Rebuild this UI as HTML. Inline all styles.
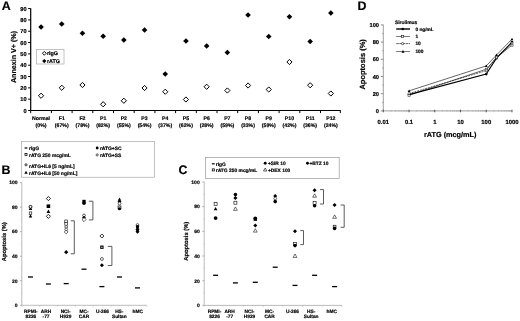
<!DOCTYPE html>
<html><head><meta charset="utf-8"><style>
html,body{margin:0;padding:0;background:#fff;}
body{width:520px;height:321px;overflow:hidden;}
svg{display:block;will-change:transform;text-rendering:geometricPrecision;}
text{stroke:#000;stroke-width:0.18px;}
</style></head><body>
<svg width="520" height="321" viewBox="0 0 520 321" font-family="Liberation Sans, sans-serif" font-weight="bold">
<rect width="520" height="321" fill="#fff"/>
<text x="1.70" y="9.90" font-size="12.4" text-anchor="start" fill="#000" >A</text>
<text x="1.60" y="173.50" font-size="12.4" text-anchor="start" fill="#000" >B</text>
<text x="178.40" y="174.00" font-size="12.4" text-anchor="start" fill="#000" >C</text>
<text x="357.40" y="10.30" font-size="12.4" text-anchor="start" fill="#000" >D</text>
<line x1="30.70" y1="8.30" x2="30.70" y2="111.00" stroke="#000" stroke-width="1.2" />
<line x1="30.20" y1="110.50" x2="340.70" y2="110.50" stroke="#000" stroke-width="1.2" />
<line x1="28.10" y1="110.50" x2="30.70" y2="110.50" stroke="#000" stroke-width="1.0" />
<text x="26.60" y="112.50" font-size="5.6" text-anchor="end" fill="#000" >0</text>
<line x1="28.10" y1="99.18" x2="30.70" y2="99.18" stroke="#000" stroke-width="1.0" />
<text x="26.60" y="101.18" font-size="5.6" text-anchor="end" fill="#000" >10</text>
<line x1="28.10" y1="87.86" x2="30.70" y2="87.86" stroke="#000" stroke-width="1.0" />
<text x="26.60" y="89.86" font-size="5.6" text-anchor="end" fill="#000" >20</text>
<line x1="28.10" y1="76.53" x2="30.70" y2="76.53" stroke="#000" stroke-width="1.0" />
<text x="26.60" y="78.53" font-size="5.6" text-anchor="end" fill="#000" >30</text>
<line x1="28.10" y1="65.21" x2="30.70" y2="65.21" stroke="#000" stroke-width="1.0" />
<text x="26.60" y="67.21" font-size="5.6" text-anchor="end" fill="#000" >40</text>
<line x1="28.10" y1="53.89" x2="30.70" y2="53.89" stroke="#000" stroke-width="1.0" />
<text x="26.60" y="55.89" font-size="5.6" text-anchor="end" fill="#000" >50</text>
<line x1="28.10" y1="42.57" x2="30.70" y2="42.57" stroke="#000" stroke-width="1.0" />
<text x="26.60" y="44.57" font-size="5.6" text-anchor="end" fill="#000" >60</text>
<line x1="28.10" y1="31.24" x2="30.70" y2="31.24" stroke="#000" stroke-width="1.0" />
<text x="26.60" y="33.24" font-size="5.6" text-anchor="end" fill="#000" >70</text>
<line x1="28.10" y1="19.92" x2="30.70" y2="19.92" stroke="#000" stroke-width="1.0" />
<text x="26.60" y="21.92" font-size="5.6" text-anchor="end" fill="#000" >80</text>
<line x1="28.10" y1="8.60" x2="30.70" y2="8.60" stroke="#000" stroke-width="1.0" />
<text x="26.60" y="10.60" font-size="5.6" text-anchor="end" fill="#000" >90</text>
<line x1="30.70" y1="110.50" x2="30.70" y2="113.10" stroke="#000" stroke-width="1.0" />
<line x1="51.40" y1="110.50" x2="51.40" y2="113.10" stroke="#000" stroke-width="1.0" />
<line x1="72.10" y1="110.50" x2="72.10" y2="113.10" stroke="#000" stroke-width="1.0" />
<line x1="92.80" y1="110.50" x2="92.80" y2="113.10" stroke="#000" stroke-width="1.0" />
<line x1="113.50" y1="110.50" x2="113.50" y2="113.10" stroke="#000" stroke-width="1.0" />
<line x1="134.20" y1="110.50" x2="134.20" y2="113.10" stroke="#000" stroke-width="1.0" />
<line x1="154.90" y1="110.50" x2="154.90" y2="113.10" stroke="#000" stroke-width="1.0" />
<line x1="175.60" y1="110.50" x2="175.60" y2="113.10" stroke="#000" stroke-width="1.0" />
<line x1="196.30" y1="110.50" x2="196.30" y2="113.10" stroke="#000" stroke-width="1.0" />
<line x1="217.00" y1="110.50" x2="217.00" y2="113.10" stroke="#000" stroke-width="1.0" />
<line x1="237.70" y1="110.50" x2="237.70" y2="113.10" stroke="#000" stroke-width="1.0" />
<line x1="258.40" y1="110.50" x2="258.40" y2="113.10" stroke="#000" stroke-width="1.0" />
<line x1="279.10" y1="110.50" x2="279.10" y2="113.10" stroke="#000" stroke-width="1.0" />
<line x1="299.80" y1="110.50" x2="299.80" y2="113.10" stroke="#000" stroke-width="1.0" />
<line x1="320.50" y1="110.50" x2="320.50" y2="113.10" stroke="#000" stroke-width="1.0" />
<line x1="340.30" y1="110.50" x2="340.30" y2="113.10" stroke="#000" stroke-width="1.0" />
<text x="41.05" y="120.20" font-size="5.2" text-anchor="middle" fill="#000" >Normal</text>
<text x="41.05" y="127.30" font-size="5.2" text-anchor="middle" fill="#000" >(0%)</text>
<text x="61.75" y="120.20" font-size="5.2" text-anchor="middle" fill="#000" >F1</text>
<text x="61.75" y="127.30" font-size="5.2" text-anchor="middle" fill="#000" >(67%)</text>
<text x="82.45" y="120.20" font-size="5.2" text-anchor="middle" fill="#000" >F2</text>
<text x="82.45" y="127.30" font-size="5.2" text-anchor="middle" fill="#000" >(78%)</text>
<text x="103.15" y="120.20" font-size="5.2" text-anchor="middle" fill="#000" >P1</text>
<text x="103.15" y="127.30" font-size="5.2" text-anchor="middle" fill="#000" >(82%)</text>
<text x="123.85" y="120.20" font-size="5.2" text-anchor="middle" fill="#000" >P2</text>
<text x="123.85" y="127.30" font-size="5.2" text-anchor="middle" fill="#000" >(55%)</text>
<text x="144.55" y="120.20" font-size="5.2" text-anchor="middle" fill="#000" >P3</text>
<text x="144.55" y="127.30" font-size="5.2" text-anchor="middle" fill="#000" >(54%)</text>
<text x="165.25" y="120.20" font-size="5.2" text-anchor="middle" fill="#000" >P4</text>
<text x="165.25" y="127.30" font-size="5.2" text-anchor="middle" fill="#000" >(37%)</text>
<text x="185.95" y="120.20" font-size="5.2" text-anchor="middle" fill="#000" >P5</text>
<text x="185.95" y="127.30" font-size="5.2" text-anchor="middle" fill="#000" >(62%)</text>
<text x="206.65" y="120.20" font-size="5.2" text-anchor="middle" fill="#000" >P6</text>
<text x="206.65" y="127.30" font-size="5.2" text-anchor="middle" fill="#000" >(28%)</text>
<text x="227.35" y="120.20" font-size="5.2" text-anchor="middle" fill="#000" >P7</text>
<text x="227.35" y="127.30" font-size="5.2" text-anchor="middle" fill="#000" >(59%)</text>
<text x="248.05" y="120.20" font-size="5.2" text-anchor="middle" fill="#000" >P8</text>
<text x="248.05" y="127.30" font-size="5.2" text-anchor="middle" fill="#000" >(33%)</text>
<text x="268.75" y="120.20" font-size="5.2" text-anchor="middle" fill="#000" >P9</text>
<text x="268.75" y="127.30" font-size="5.2" text-anchor="middle" fill="#000" >(59%)</text>
<text x="289.45" y="120.20" font-size="5.2" text-anchor="middle" fill="#000" >P10</text>
<text x="289.45" y="127.30" font-size="5.2" text-anchor="middle" fill="#000" >(42%)</text>
<text x="310.15" y="120.20" font-size="5.2" text-anchor="middle" fill="#000" >P11</text>
<text x="310.15" y="127.30" font-size="5.2" text-anchor="middle" fill="#000" >(36%)</text>
<text x="330.85" y="120.20" font-size="5.2" text-anchor="middle" fill="#000" >P12</text>
<text x="330.85" y="127.30" font-size="5.2" text-anchor="middle" fill="#000" >(24%)</text>
<polygon points="41.05,24.20 43.85,27.00 41.05,29.80 38.25,27.00" fill="#000"/>
<polygon points="41.05,93.15 43.65,95.75 41.05,98.35 38.45,95.75" fill="#fff" stroke="#000" stroke-width="1.0"/>
<polygon points="61.75,21.20 64.55,24.00 61.75,26.80 58.95,24.00" fill="#000"/>
<polygon points="61.75,85.15 64.35,87.75 61.75,90.35 59.15,87.75" fill="#fff" stroke="#000" stroke-width="1.0"/>
<polygon points="82.45,30.45 85.25,33.25 82.45,36.05 79.65,33.25" fill="#000"/>
<polygon points="82.45,82.40 85.05,85.00 82.45,87.60 79.85,85.00" fill="#fff" stroke="#000" stroke-width="1.0"/>
<polygon points="103.15,33.45 105.95,36.25 103.15,39.05 100.35,36.25" fill="#000"/>
<polygon points="103.15,101.65 105.75,104.25 103.15,106.85 100.55,104.25" fill="#fff" stroke="#000" stroke-width="1.0"/>
<polygon points="123.85,37.20 126.65,40.00 123.85,42.80 121.05,40.00" fill="#000"/>
<polygon points="123.85,98.15 126.45,100.75 123.85,103.35 121.25,100.75" fill="#fff" stroke="#000" stroke-width="1.0"/>
<polygon points="144.55,27.20 147.35,30.00 144.55,32.80 141.75,30.00" fill="#000"/>
<polygon points="144.55,85.40 147.15,88.00 144.55,90.60 141.95,88.00" fill="#fff" stroke="#000" stroke-width="1.0"/>
<polygon points="165.25,71.20 168.05,74.00 165.25,76.80 162.45,74.00" fill="#000"/>
<polygon points="165.25,89.15 167.85,91.75 165.25,94.35 162.65,91.75" fill="#fff" stroke="#000" stroke-width="1.0"/>
<polygon points="185.95,38.20 188.75,41.00 185.95,43.80 183.15,41.00" fill="#000"/>
<polygon points="185.95,96.90 188.55,99.50 185.95,102.10 183.35,99.50" fill="#fff" stroke="#000" stroke-width="1.0"/>
<polygon points="206.65,43.20 209.45,46.00 206.65,48.80 203.85,46.00" fill="#000"/>
<polygon points="206.65,84.15 209.25,86.75 206.65,89.35 204.05,86.75" fill="#fff" stroke="#000" stroke-width="1.0"/>
<polygon points="227.35,49.70 230.15,52.50 227.35,55.30 224.55,52.50" fill="#000"/>
<polygon points="227.35,87.90 229.95,90.50 227.35,93.10 224.75,90.50" fill="#fff" stroke="#000" stroke-width="1.0"/>
<polygon points="248.05,12.20 250.85,15.00 248.05,17.80 245.25,15.00" fill="#000"/>
<polygon points="248.05,82.90 250.65,85.50 248.05,88.10 245.45,85.50" fill="#fff" stroke="#000" stroke-width="1.0"/>
<polygon points="268.75,33.70 271.55,36.50 268.75,39.30 265.95,36.50" fill="#000"/>
<polygon points="268.75,86.90 271.35,89.50 268.75,92.10 266.15,89.50" fill="#fff" stroke="#000" stroke-width="1.0"/>
<polygon points="289.45,13.95 292.25,16.75 289.45,19.55 286.65,16.75" fill="#000"/>
<polygon points="289.45,59.40 292.05,62.00 289.45,64.60 286.85,62.00" fill="#fff" stroke="#000" stroke-width="1.0"/>
<polygon points="310.15,38.70 312.95,41.50 310.15,44.30 307.35,41.50" fill="#000"/>
<polygon points="310.15,82.65 312.75,85.25 310.15,87.85 307.55,85.25" fill="#fff" stroke="#000" stroke-width="1.0"/>
<polygon points="330.85,10.20 333.65,13.00 330.85,15.80 328.05,13.00" fill="#000"/>
<polygon points="330.85,90.90 333.45,93.50 330.85,96.10 328.25,93.50" fill="#fff" stroke="#000" stroke-width="1.0"/>
<text transform="translate(16.0,57) rotate(-90)" font-size="7.15" text-anchor="middle">Annexin V+ (%)</text>
<rect x="36.6" y="49.6" width="27.4" height="14.4" fill="#fff" stroke="#aaa" stroke-width="0.7"/>
<polygon points="44.30,51.40 46.20,53.30 44.30,55.20 42.40,53.30" fill="#fff" stroke="#000" stroke-width="0.95"/>
<text x="46.90" y="55.30" font-size="5.4" text-anchor="start" fill="#000" >rIgG</text>
<polygon points="44.30,59.00 46.40,61.10 44.30,63.20 42.20,61.10" fill="#000"/>
<text x="46.90" y="62.90" font-size="5.4" text-anchor="start" fill="#000" >rATG</text>
<line x1="383.30" y1="24.60" x2="383.30" y2="110.90" stroke="#888" stroke-width="0.8" />
<line x1="383.30" y1="110.90" x2="512.00" y2="110.90" stroke="#888" stroke-width="0.8" />
<line x1="380.80" y1="110.90" x2="383.30" y2="110.90" stroke="#777" stroke-width="0.8" />
<text x="379.00" y="112.90" font-size="5.7" text-anchor="end" fill="#000" >0</text>
<line x1="382.10" y1="102.30" x2="383.30" y2="102.30" stroke="#666" stroke-width="0.5" />
<line x1="380.80" y1="93.70" x2="383.30" y2="93.70" stroke="#777" stroke-width="0.8" />
<text x="379.00" y="95.70" font-size="5.7" text-anchor="end" fill="#000" >20</text>
<line x1="382.10" y1="85.10" x2="383.30" y2="85.10" stroke="#666" stroke-width="0.5" />
<line x1="380.80" y1="76.50" x2="383.30" y2="76.50" stroke="#777" stroke-width="0.8" />
<text x="379.00" y="78.50" font-size="5.7" text-anchor="end" fill="#000" >40</text>
<line x1="382.10" y1="67.90" x2="383.30" y2="67.90" stroke="#666" stroke-width="0.5" />
<line x1="380.80" y1="59.30" x2="383.30" y2="59.30" stroke="#777" stroke-width="0.8" />
<text x="379.00" y="61.30" font-size="5.7" text-anchor="end" fill="#000" >60</text>
<line x1="382.10" y1="50.70" x2="383.30" y2="50.70" stroke="#666" stroke-width="0.5" />
<line x1="380.80" y1="42.10" x2="383.30" y2="42.10" stroke="#777" stroke-width="0.8" />
<text x="379.00" y="44.10" font-size="5.7" text-anchor="end" fill="#000" >80</text>
<line x1="382.10" y1="33.50" x2="383.30" y2="33.50" stroke="#666" stroke-width="0.5" />
<line x1="380.80" y1="24.90" x2="383.30" y2="24.90" stroke="#777" stroke-width="0.8" />
<text x="379.00" y="26.90" font-size="5.7" text-anchor="end" fill="#000" >100</text>
<line x1="383.30" y1="109.70" x2="383.30" y2="112.30" stroke="#333" stroke-width="0.8" />
<line x1="391.05" y1="110.30" x2="391.05" y2="111.50" stroke="#777" stroke-width="0.4" />
<line x1="395.58" y1="110.30" x2="395.58" y2="111.50" stroke="#777" stroke-width="0.4" />
<line x1="398.80" y1="110.30" x2="398.80" y2="111.50" stroke="#777" stroke-width="0.4" />
<line x1="401.29" y1="110.30" x2="401.29" y2="111.50" stroke="#777" stroke-width="0.4" />
<line x1="403.33" y1="110.30" x2="403.33" y2="111.50" stroke="#777" stroke-width="0.4" />
<line x1="405.05" y1="110.30" x2="405.05" y2="111.50" stroke="#777" stroke-width="0.4" />
<line x1="406.55" y1="110.30" x2="406.55" y2="111.50" stroke="#777" stroke-width="0.4" />
<line x1="407.86" y1="110.30" x2="407.86" y2="111.50" stroke="#777" stroke-width="0.4" />
<line x1="409.04" y1="109.70" x2="409.04" y2="112.30" stroke="#333" stroke-width="0.8" />
<line x1="416.79" y1="110.30" x2="416.79" y2="111.50" stroke="#777" stroke-width="0.4" />
<line x1="421.32" y1="110.30" x2="421.32" y2="111.50" stroke="#777" stroke-width="0.4" />
<line x1="424.54" y1="110.30" x2="424.54" y2="111.50" stroke="#777" stroke-width="0.4" />
<line x1="427.03" y1="110.30" x2="427.03" y2="111.50" stroke="#777" stroke-width="0.4" />
<line x1="429.07" y1="110.30" x2="429.07" y2="111.50" stroke="#777" stroke-width="0.4" />
<line x1="430.79" y1="110.30" x2="430.79" y2="111.50" stroke="#777" stroke-width="0.4" />
<line x1="432.29" y1="110.30" x2="432.29" y2="111.50" stroke="#777" stroke-width="0.4" />
<line x1="433.60" y1="110.30" x2="433.60" y2="111.50" stroke="#777" stroke-width="0.4" />
<line x1="434.78" y1="109.70" x2="434.78" y2="112.30" stroke="#333" stroke-width="0.8" />
<line x1="442.53" y1="110.30" x2="442.53" y2="111.50" stroke="#777" stroke-width="0.4" />
<line x1="447.06" y1="110.30" x2="447.06" y2="111.50" stroke="#777" stroke-width="0.4" />
<line x1="450.28" y1="110.30" x2="450.28" y2="111.50" stroke="#777" stroke-width="0.4" />
<line x1="452.77" y1="110.30" x2="452.77" y2="111.50" stroke="#777" stroke-width="0.4" />
<line x1="454.81" y1="110.30" x2="454.81" y2="111.50" stroke="#777" stroke-width="0.4" />
<line x1="456.53" y1="110.30" x2="456.53" y2="111.50" stroke="#777" stroke-width="0.4" />
<line x1="458.03" y1="110.30" x2="458.03" y2="111.50" stroke="#777" stroke-width="0.4" />
<line x1="459.34" y1="110.30" x2="459.34" y2="111.50" stroke="#777" stroke-width="0.4" />
<line x1="460.52" y1="109.70" x2="460.52" y2="112.30" stroke="#333" stroke-width="0.8" />
<line x1="468.27" y1="110.30" x2="468.27" y2="111.50" stroke="#777" stroke-width="0.4" />
<line x1="472.80" y1="110.30" x2="472.80" y2="111.50" stroke="#777" stroke-width="0.4" />
<line x1="476.02" y1="110.30" x2="476.02" y2="111.50" stroke="#777" stroke-width="0.4" />
<line x1="478.51" y1="110.30" x2="478.51" y2="111.50" stroke="#777" stroke-width="0.4" />
<line x1="480.55" y1="110.30" x2="480.55" y2="111.50" stroke="#777" stroke-width="0.4" />
<line x1="482.27" y1="110.30" x2="482.27" y2="111.50" stroke="#777" stroke-width="0.4" />
<line x1="483.77" y1="110.30" x2="483.77" y2="111.50" stroke="#777" stroke-width="0.4" />
<line x1="485.08" y1="110.30" x2="485.08" y2="111.50" stroke="#777" stroke-width="0.4" />
<line x1="486.26" y1="109.70" x2="486.26" y2="112.30" stroke="#333" stroke-width="0.8" />
<line x1="494.01" y1="110.30" x2="494.01" y2="111.50" stroke="#777" stroke-width="0.4" />
<line x1="498.54" y1="110.30" x2="498.54" y2="111.50" stroke="#777" stroke-width="0.4" />
<line x1="501.76" y1="110.30" x2="501.76" y2="111.50" stroke="#777" stroke-width="0.4" />
<line x1="504.25" y1="110.30" x2="504.25" y2="111.50" stroke="#777" stroke-width="0.4" />
<line x1="506.29" y1="110.30" x2="506.29" y2="111.50" stroke="#777" stroke-width="0.4" />
<line x1="508.01" y1="110.30" x2="508.01" y2="111.50" stroke="#777" stroke-width="0.4" />
<line x1="509.51" y1="110.30" x2="509.51" y2="111.50" stroke="#777" stroke-width="0.4" />
<line x1="510.82" y1="110.30" x2="510.82" y2="111.50" stroke="#777" stroke-width="0.4" />
<line x1="512.00" y1="109.70" x2="512.00" y2="112.30" stroke="#333" stroke-width="0.8" />
<text x="383.30" y="123.60" font-size="5.9" text-anchor="middle" fill="#000" >0.01</text>
<text x="409.04" y="123.60" font-size="5.9" text-anchor="middle" fill="#000" >0.1</text>
<text x="434.78" y="123.60" font-size="5.9" text-anchor="middle" fill="#000" >1</text>
<text x="460.52" y="123.60" font-size="5.9" text-anchor="middle" fill="#000" >10</text>
<text x="486.26" y="123.60" font-size="5.9" text-anchor="middle" fill="#000" >100</text>
<text x="512.00" y="123.60" font-size="5.9" text-anchor="middle" fill="#000" >1000</text>
<text x="450.20" y="136.50" font-size="7.3" text-anchor="middle" fill="#000" >rATG (mcg/mL)</text>
<text transform="translate(365.0,64.4) rotate(-90)" font-size="7.5" text-anchor="middle">Apoptosis (%)</text>
<text x="395.00" y="24.00" font-size="4.9" text-anchor="start" fill="#000" >Sirolimus</text>
<line x1="396.20" y1="29.00" x2="410.00" y2="29.00" stroke="#000" stroke-width="1.4" />
<circle cx="402.80" cy="29.00" r="1.30" fill="#000"/>
<text x="415.40" y="30.85" font-size="4.8" text-anchor="start" fill="#000" >0 ng/mL</text>
<line x1="396.20" y1="36.50" x2="410.00" y2="36.50" stroke="#222" stroke-width="0.6" />
<rect x="401.48" y="35.38" width="2.25" height="2.25" fill="#fff" stroke="#000" stroke-width="0.55"/>
<text x="415.40" y="38.35" font-size="4.8" text-anchor="start" fill="#000" >1</text>
<line x1="396.20" y1="43.60" x2="410.00" y2="43.60" stroke="#222" stroke-width="0.7" stroke-dasharray="2.6,0.5"/>
<circle cx="402.60" cy="43.60" r="1.12" fill="#fff" stroke="#000" stroke-width="0.55"/>
<text x="415.40" y="45.45" font-size="4.8" text-anchor="start" fill="#000" >10</text>
<line x1="396.20" y1="51.50" x2="410.00" y2="51.50" stroke="#222" stroke-width="0.6" />
<polygon points="403.00,50.00 404.50,52.70 401.50,52.70" fill="#000"/>
<text x="415.40" y="53.35" font-size="4.8" text-anchor="start" fill="#000" >100</text>
<polyline points="409.04,94.65 486.26,74.09 496.50,58.18 512.00,42.10" fill="none" stroke="#000" stroke-width="1.1" />
<polyline points="409.04,95.25 486.26,69.19 496.50,57.58 512.00,45.11" fill="none" stroke="#000" stroke-width="0.6" />
<polyline points="409.04,93.53 486.26,70.65 496.50,57.15 512.00,42.96" fill="none" stroke="#000" stroke-width="0.6" stroke-dasharray="2,0.8"/>
<polyline points="409.04,90.86 486.26,65.92 496.50,55.00 512.00,39.09" fill="none" stroke="#000" stroke-width="0.6" />
<circle cx="409.04" cy="94.65" r="1.30" fill="#000"/>
<circle cx="486.26" cy="74.09" r="1.30" fill="#000"/>
<circle cx="496.50" cy="58.18" r="1.30" fill="#000"/>
<circle cx="512.00" cy="42.10" r="1.30" fill="#000"/>
<rect x="407.99" y="94.20" width="2.10" height="2.10" fill="#fff" stroke="#000" stroke-width="0.5"/>
<rect x="485.21" y="68.14" width="2.10" height="2.10" fill="#fff" stroke="#000" stroke-width="0.5"/>
<rect x="495.45" y="56.53" width="2.10" height="2.10" fill="#fff" stroke="#000" stroke-width="0.5"/>
<rect x="510.95" y="44.06" width="2.10" height="2.10" fill="#fff" stroke="#000" stroke-width="0.5"/>
<circle cx="409.04" cy="93.53" r="1.05" fill="#fff" stroke="#000" stroke-width="0.5"/>
<circle cx="486.26" cy="70.65" r="1.05" fill="#fff" stroke="#000" stroke-width="0.5"/>
<circle cx="496.50" cy="57.15" r="1.05" fill="#fff" stroke="#000" stroke-width="0.5"/>
<circle cx="512.00" cy="42.96" r="1.05" fill="#fff" stroke="#000" stroke-width="0.5"/>
<polygon points="409.04,89.46 410.44,91.98 407.64,91.98" fill="#000"/>
<polygon points="486.26,64.52 487.66,67.04 484.86,67.04" fill="#000"/>
<polygon points="496.50,53.60 497.90,56.12 495.10,56.12" fill="#000"/>
<polygon points="512.00,37.69 513.40,40.21 510.60,40.21" fill="#000"/>
<line x1="21.80" y1="182.60" x2="21.80" y2="305.30" stroke="#aaa" stroke-width="0.8" />
<line x1="21.80" y1="305.30" x2="146.80" y2="305.30" stroke="#aaa" stroke-width="0.8" />
<line x1="20.00" y1="305.30" x2="21.80" y2="305.30" stroke="#999" stroke-width="0.8" />
<text x="17.60" y="307.10" font-size="5.0" text-anchor="end" fill="#000" >0</text>
<line x1="20.80" y1="293.03" x2="21.80" y2="293.03" stroke="#bbb" stroke-width="0.6" />
<line x1="20.00" y1="280.76" x2="21.80" y2="280.76" stroke="#999" stroke-width="0.8" />
<text x="17.60" y="282.56" font-size="5.0" text-anchor="end" fill="#000" >20</text>
<line x1="20.80" y1="268.49" x2="21.80" y2="268.49" stroke="#bbb" stroke-width="0.6" />
<line x1="20.00" y1="256.22" x2="21.80" y2="256.22" stroke="#999" stroke-width="0.8" />
<text x="17.60" y="258.02" font-size="5.0" text-anchor="end" fill="#000" >40</text>
<line x1="20.80" y1="243.95" x2="21.80" y2="243.95" stroke="#bbb" stroke-width="0.6" />
<line x1="20.00" y1="231.68" x2="21.80" y2="231.68" stroke="#999" stroke-width="0.8" />
<text x="17.60" y="233.48" font-size="5.0" text-anchor="end" fill="#000" >60</text>
<line x1="20.80" y1="219.41" x2="21.80" y2="219.41" stroke="#bbb" stroke-width="0.6" />
<line x1="20.00" y1="207.14" x2="21.80" y2="207.14" stroke="#999" stroke-width="0.8" />
<text x="17.60" y="208.94" font-size="5.0" text-anchor="end" fill="#000" >80</text>
<line x1="20.80" y1="194.87" x2="21.80" y2="194.87" stroke="#bbb" stroke-width="0.6" />
<line x1="20.00" y1="182.60" x2="21.80" y2="182.60" stroke="#999" stroke-width="0.8" />
<text x="17.60" y="184.40" font-size="5.0" text-anchor="end" fill="#000" >100</text>
<line x1="21.80" y1="305.30" x2="21.80" y2="306.80" stroke="#bbb" stroke-width="0.6" />
<line x1="39.66" y1="305.30" x2="39.66" y2="306.80" stroke="#bbb" stroke-width="0.6" />
<line x1="57.51" y1="305.30" x2="57.51" y2="306.80" stroke="#bbb" stroke-width="0.6" />
<line x1="75.37" y1="305.30" x2="75.37" y2="306.80" stroke="#bbb" stroke-width="0.6" />
<line x1="93.23" y1="305.30" x2="93.23" y2="306.80" stroke="#bbb" stroke-width="0.6" />
<line x1="111.09" y1="305.30" x2="111.09" y2="306.80" stroke="#bbb" stroke-width="0.6" />
<line x1="128.94" y1="305.30" x2="128.94" y2="306.80" stroke="#bbb" stroke-width="0.6" />
<line x1="146.80" y1="305.30" x2="146.80" y2="306.80" stroke="#bbb" stroke-width="0.6" />
<text transform="translate(6.3,241.7) rotate(-90)" font-size="5.8" text-anchor="middle">Apoptosis (%)</text>
<text x="30.90" y="312.60" font-size="4.8" text-anchor="middle" fill="#000" >RPMI-</text>
<text x="30.90" y="317.80" font-size="4.8" text-anchor="middle" fill="#000" >8226</text>
<text x="46.00" y="312.60" font-size="4.8" text-anchor="middle" fill="#000" >ARH</text>
<text x="46.00" y="317.80" font-size="4.8" text-anchor="middle" fill="#000" >-77</text>
<text x="65.60" y="312.60" font-size="4.8" text-anchor="middle" fill="#000" >NCI-</text>
<text x="65.60" y="317.80" font-size="4.8" text-anchor="middle" fill="#000" >H929</text>
<text x="84.00" y="312.60" font-size="4.8" text-anchor="middle" fill="#000" >MC-</text>
<text x="84.00" y="317.80" font-size="4.8" text-anchor="middle" fill="#000" >CAR</text>
<text x="102.50" y="312.60" font-size="4.8" text-anchor="middle" fill="#000" >U-266</text>
<text x="119.30" y="312.60" font-size="4.8" text-anchor="middle" fill="#000" >HS-</text>
<text x="119.30" y="317.80" font-size="4.8" text-anchor="middle" fill="#000" >Sultan</text>
<text x="137.70" y="312.60" font-size="4.8" text-anchor="middle" fill="#000" >hMC</text>
<rect x="28.00" y="276.35" width="5.00" height="1.30" fill="#000"/>
<rect x="45.90" y="283.35" width="5.00" height="1.30" fill="#000"/>
<rect x="63.70" y="282.95" width="5.00" height="1.30" fill="#000"/>
<rect x="81.50" y="268.55" width="5.00" height="1.30" fill="#000"/>
<rect x="99.40" y="285.95" width="5.00" height="1.30" fill="#000"/>
<rect x="117.00" y="276.35" width="5.00" height="1.30" fill="#000"/>
<rect x="135.00" y="287.25" width="5.00" height="1.30" fill="#000"/>
<polygon points="30.50,206.81 32.29,210.03 28.71,210.03" fill="#000"/>
<circle cx="30.50" cy="206.80" r="1.45" fill="#fff" stroke="#000" stroke-width="0.9"/>
<rect x="29.23" y="211.93" width="2.54" height="2.54" fill="#fff" stroke="#000" stroke-width="0.6"/>
<polygon points="30.50,214.21 32.29,217.43 28.71,217.43" fill="#000"/>
<polygon points="48.40,196.53 50.47,198.60 48.40,200.67 46.33,198.60" fill="#fff" stroke="#000" stroke-width="0.85"/>
<rect x="46.61" y="204.41" width="3.58" height="3.58" fill="#000"/>
<polygon points="48.40,209.50 50.30,212.92 46.50,212.92" fill="#000"/>
<polygon points="48.40,214.23 50.47,216.30 48.40,218.37 46.33,216.30" fill="#fff" stroke="#000" stroke-width="0.85"/>
<rect x="64.82" y="220.02" width="2.76" height="2.76" fill="#fff" stroke="#000" stroke-width="0.6"/>
<rect x="64.82" y="222.42" width="2.76" height="2.76" fill="#fff" stroke="#000" stroke-width="0.6"/>
<circle cx="66.20" cy="226.90" r="1.38" fill="#fff" stroke="#000" stroke-width="0.6"/>
<circle cx="66.20" cy="229.50" r="1.38" fill="#fff" stroke="#000" stroke-width="0.6"/>
<polygon points="66.20,230.10 68.10,232.00 66.20,233.90 64.30,232.00" fill="#fff" stroke="#000" stroke-width="0.6"/>
<polygon points="66.20,250.07 68.33,252.20 66.20,254.33 64.07,252.20" fill="#000"/>
<polyline points="70.80,220.80 74.30,220.80 74.30,253.80 70.80,253.80" fill="none" stroke="#333" stroke-width="0.8"/>
<rect x="82.32" y="199.82" width="3.36" height="3.36" fill="#000"/>
<circle cx="84.00" cy="203.30" r="1.68" fill="#000"/>
<circle cx="84.00" cy="215.40" r="1.38" fill="#fff" stroke="#000" stroke-width="0.6"/>
<polygon points="84.00,215.78 86.02,217.80 84.00,219.82 81.98,217.80" fill="#000"/>
<polygon points="84.00,217.58 86.02,219.60 84.00,221.62 81.98,219.60" fill="#fff" stroke="#000" stroke-width="0.6"/>
<polyline points="88.90,201.20 92.90,201.20 92.90,219.90 88.90,219.90" fill="none" stroke="#333" stroke-width="0.8"/>
<polygon points="101.90,233.98 103.92,236.00 101.90,238.02 99.88,236.00" fill="#fff" stroke="#000" stroke-width="0.8"/>
<rect x="100.22" y="245.52" width="3.36" height="3.36" fill="#000"/>
<rect x="101.20" y="246.7" width="1.4" height="1.0" fill="#fff"/>
<circle cx="101.90" cy="259.00" r="1.49" fill="#fff" stroke="#000" stroke-width="0.6"/>
<polygon points="101.90,263.18 103.92,265.20 101.90,267.22 99.88,265.20" fill="#000"/>
<polyline points="107.80,246.40 111.90,246.40 111.90,265.50 107.80,265.50" fill="none" stroke="#333" stroke-width="0.8"/>
<polygon points="119.50,197.51 121.29,200.73 117.71,200.73" fill="#000"/>
<polygon points="119.50,199.78 121.52,201.80 119.50,203.82 117.48,201.80" fill="#000"/>
<circle cx="119.50" cy="203.50" r="1.38" fill="#fff" stroke="#000" stroke-width="0.6"/>
<rect x="118.06" y="205.96" width="2.88" height="2.88" fill="#fff" stroke="#000" stroke-width="0.7"/>
<circle cx="119.50" cy="208.80" r="1.57" fill="#000"/>
<circle cx="137.50" cy="225.00" r="1.38" fill="#fff" stroke="#000" stroke-width="0.6"/>
<circle cx="137.50" cy="226.80" r="1.68" fill="#000"/>
<circle cx="137.50" cy="229.60" r="1.79" fill="#000"/>
<polygon points="137.50,229.78 139.52,231.80 137.50,233.82 135.48,231.80" fill="#000"/>
<rect x="21.3" y="141.6" width="133.3" height="35.6" fill="#fff" stroke="#999" stroke-width="0.6"/>
<rect x="24.60" y="147.40" width="2.80" height="1.20" fill="#000"/>
<text x="29.00" y="150.00" font-size="4.95" text-anchor="start" fill="#000" >rIgG</text>
<rect x="24.98" y="153.38" width="2.05" height="2.05" fill="#fff" stroke="#000" stroke-width="0.75"/>
<text x="29.00" y="157.30" font-size="4.95" text-anchor="start" fill="#000" >rATG 250 mcg/mL</text>
<circle cx="26.00" cy="164.80" r="1.10" fill="#fff" stroke="#000" stroke-width="0.7"/>
<circle cx="26.0" cy="164.8" r="0.55" fill="#444"/>
<text x="29.00" y="167.90" font-size="4.95" text-anchor="start" fill="#000" >rATG+IL6 [5 ng/mL]</text>
<polygon points="26.00,170.70 27.70,173.76 24.30,173.76" fill="#000"/>
<text x="29.00" y="174.80" font-size="4.95" text-anchor="start" fill="#000" >rATG+IL6 [50 ng/mL]</text>
<circle cx="97.20" cy="148.00" r="1.40" fill="#000"/>
<text x="99.90" y="150.00" font-size="4.95" text-anchor="start" fill="#000" >rATG+SC</text>
<circle cx="97.20" cy="154.90" r="1.10" fill="#fff" stroke="#000" stroke-width="0.6"/>
<circle cx="97.2" cy="154.9" r="0.7" fill="#777"/>
<text x="99.90" y="157.30" font-size="4.95" text-anchor="start" fill="#000" >rATG+SS</text>
<line x1="204.20" y1="182.00" x2="204.20" y2="305.40" stroke="#aaa" stroke-width="0.8" />
<line x1="204.20" y1="305.40" x2="342.00" y2="305.40" stroke="#aaa" stroke-width="0.8" />
<line x1="202.40" y1="305.40" x2="204.20" y2="305.40" stroke="#999" stroke-width="0.8" />
<text x="199.70" y="307.20" font-size="5.0" text-anchor="end" fill="#000" >0</text>
<line x1="203.20" y1="293.06" x2="204.20" y2="293.06" stroke="#bbb" stroke-width="0.6" />
<line x1="202.40" y1="280.72" x2="204.20" y2="280.72" stroke="#999" stroke-width="0.8" />
<text x="199.70" y="282.52" font-size="5.0" text-anchor="end" fill="#000" >20</text>
<line x1="203.20" y1="268.38" x2="204.20" y2="268.38" stroke="#bbb" stroke-width="0.6" />
<line x1="202.40" y1="256.04" x2="204.20" y2="256.04" stroke="#999" stroke-width="0.8" />
<text x="199.70" y="257.84" font-size="5.0" text-anchor="end" fill="#000" >40</text>
<line x1="203.20" y1="243.70" x2="204.20" y2="243.70" stroke="#bbb" stroke-width="0.6" />
<line x1="202.40" y1="231.36" x2="204.20" y2="231.36" stroke="#999" stroke-width="0.8" />
<text x="199.70" y="233.16" font-size="5.0" text-anchor="end" fill="#000" >60</text>
<line x1="203.20" y1="219.02" x2="204.20" y2="219.02" stroke="#bbb" stroke-width="0.6" />
<line x1="202.40" y1="206.68" x2="204.20" y2="206.68" stroke="#999" stroke-width="0.8" />
<text x="199.70" y="208.48" font-size="5.0" text-anchor="end" fill="#000" >80</text>
<line x1="203.20" y1="194.34" x2="204.20" y2="194.34" stroke="#bbb" stroke-width="0.6" />
<line x1="202.40" y1="182.00" x2="204.20" y2="182.00" stroke="#999" stroke-width="0.8" />
<text x="199.70" y="183.80" font-size="5.0" text-anchor="end" fill="#000" >100</text>
<line x1="204.20" y1="305.40" x2="204.20" y2="306.90" stroke="#bbb" stroke-width="0.6" />
<line x1="223.89" y1="305.40" x2="223.89" y2="306.90" stroke="#bbb" stroke-width="0.6" />
<line x1="243.57" y1="305.40" x2="243.57" y2="306.90" stroke="#bbb" stroke-width="0.6" />
<line x1="263.26" y1="305.40" x2="263.26" y2="306.90" stroke="#bbb" stroke-width="0.6" />
<line x1="282.94" y1="305.40" x2="282.94" y2="306.90" stroke="#bbb" stroke-width="0.6" />
<line x1="302.63" y1="305.40" x2="302.63" y2="306.90" stroke="#bbb" stroke-width="0.6" />
<line x1="322.31" y1="305.40" x2="322.31" y2="306.90" stroke="#bbb" stroke-width="0.6" />
<line x1="342.00" y1="305.40" x2="342.00" y2="306.90" stroke="#bbb" stroke-width="0.6" />
<text transform="translate(188.0,241.2) rotate(-90)" font-size="5.8" text-anchor="middle">Apoptosis (%)</text>
<text x="214.50" y="312.60" font-size="4.8" text-anchor="middle" fill="#000" >RPMI-</text>
<text x="214.50" y="317.80" font-size="4.8" text-anchor="middle" fill="#000" >8226</text>
<text x="229.60" y="312.60" font-size="4.8" text-anchor="middle" fill="#000" >ARH</text>
<text x="229.60" y="317.80" font-size="4.8" text-anchor="middle" fill="#000" >-77</text>
<text x="249.50" y="312.60" font-size="4.8" text-anchor="middle" fill="#000" >NCI-</text>
<text x="249.50" y="317.80" font-size="4.8" text-anchor="middle" fill="#000" >H929</text>
<text x="269.60" y="312.60" font-size="4.8" text-anchor="middle" fill="#000" >MC-</text>
<text x="269.60" y="317.80" font-size="4.8" text-anchor="middle" fill="#000" >CAR</text>
<text x="292.50" y="312.60" font-size="4.8" text-anchor="middle" fill="#000" >U-266</text>
<text x="311.20" y="312.60" font-size="4.8" text-anchor="middle" fill="#000" >HS-</text>
<text x="311.20" y="317.80" font-size="4.8" text-anchor="middle" fill="#000" >Sultan</text>
<text x="331.80" y="312.60" font-size="4.8" text-anchor="middle" fill="#000" >hMC</text>
<rect x="213.10" y="274.65" width="5.00" height="1.30" fill="#000"/>
<rect x="232.90" y="282.25" width="5.00" height="1.30" fill="#000"/>
<rect x="252.80" y="281.65" width="5.00" height="1.30" fill="#000"/>
<rect x="272.70" y="266.55" width="5.00" height="1.30" fill="#000"/>
<rect x="292.50" y="284.75" width="5.00" height="1.30" fill="#000"/>
<rect x="312.10" y="274.65" width="5.00" height="1.30" fill="#000"/>
<rect x="332.10" y="285.95" width="5.00" height="1.30" fill="#000"/>
<rect x="214.11" y="202.51" width="2.98" height="2.98" fill="#fff" stroke="#000" stroke-width="0.6"/>
<polygon points="215.60,206.90 217.50,210.32 213.70,210.32" fill="#000"/>
<circle cx="215.60" cy="218.10" r="1.90" fill="#000"/>
<circle cx="235.40" cy="194.60" r="1.79" fill="#000"/>
<polygon points="235.40,195.88 237.42,197.90 235.40,199.92 233.38,197.90" fill="#000"/>
<rect x="233.91" y="201.21" width="2.98" height="2.98" fill="#fff" stroke="#000" stroke-width="0.6"/>
<polygon points="235.40,206.90 237.30,210.32 233.50,210.32" fill="#fff" stroke="#000" stroke-width="0.55"/>
<circle cx="255.30" cy="218.20" r="1.79" fill="#000"/>
<rect x="253.62" y="217.52" width="3.36" height="3.36" fill="#000"/>
<polygon points="255.30,223.58 257.32,225.60 255.30,227.62 253.28,225.60" fill="#000"/>
<polygon points="255.30,228.70 257.20,232.12 253.40,232.12" fill="#fff" stroke="#000" stroke-width="0.55"/>
<polygon points="275.20,193.98 277.22,196.00 275.20,198.02 273.18,196.00" fill="#000"/>
<circle cx="275.20" cy="198.50" r="1.38" fill="#fff" stroke="#000" stroke-width="0.6"/>
<circle cx="275.20" cy="201.60" r="1.79" fill="#000"/>
<polygon points="295.00,229.18 297.02,231.20 295.00,233.22 292.98,231.20" fill="#000"/>
<rect x="293.62" y="242.42" width="2.76" height="2.76" fill="#fff" stroke="#000" stroke-width="0.6"/>
<circle cx="295.00" cy="245.60" r="1.79" fill="#000"/>
<polygon points="295.00,254.00 296.90,257.42 293.10,257.42" fill="#fff" stroke="#000" stroke-width="0.55"/>
<polyline points="300.30,230.60 303.50,230.60 303.50,244.60 300.30,244.60" fill="none" stroke="#333" stroke-width="0.8"/>
<polygon points="314.60,188.28 316.62,190.30 314.60,192.32 312.58,190.30" fill="#000"/>
<polygon points="314.60,193.80 316.50,197.22 312.70,197.22" fill="#fff" stroke="#000" stroke-width="0.55"/>
<rect x="313.11" y="201.51" width="2.98" height="2.98" fill="#fff" stroke="#000" stroke-width="0.6"/>
<circle cx="314.60" cy="205.80" r="1.79" fill="#000"/>
<polyline points="320.00,189.60 323.50,189.60 323.50,204.00 320.00,204.00" fill="none" stroke="#333" stroke-width="0.8"/>
<polygon points="334.60,202.98 336.62,205.00 334.60,207.02 332.58,205.00" fill="#000"/>
<polygon points="334.60,214.90 336.50,218.32 332.70,218.32" fill="#fff" stroke="#000" stroke-width="0.55"/>
<rect x="333.22" y="225.22" width="2.76" height="2.76" fill="#fff" stroke="#000" stroke-width="0.6"/>
<circle cx="334.60" cy="228.40" r="1.79" fill="#000"/>
<polyline points="340.60,205.00 344.20,205.00 344.20,227.30 340.60,227.30" fill="none" stroke="#333" stroke-width="0.8"/>
<rect x="205.6" y="157.6" width="133.6" height="21.0" fill="#fff" stroke="#999" stroke-width="0.7"/>
<rect x="211.90" y="163.20" width="2.80" height="1.20" fill="#000"/>
<text x="215.80" y="165.60" font-size="4.9" text-anchor="start" fill="#000" >rIgG</text>
<rect x="212.28" y="168.88" width="2.05" height="2.05" fill="#fff" stroke="#000" stroke-width="0.75"/>
<text x="215.80" y="171.70" font-size="4.9" text-anchor="start" fill="#000" >rATG 250 mcg/mL</text>
<circle cx="265.20" cy="163.30" r="1.45" fill="#000"/>
<text x="267.90" y="165.10" font-size="4.9" text-anchor="start" fill="#000" >+SIR 10</text>
<polygon points="265.20,168.00 266.90,171.06 263.50,171.06" fill="#fff" stroke="#000" stroke-width="0.6"/>
<text x="267.90" y="171.50" font-size="4.9" text-anchor="start" fill="#000" >+DEX 100</text>
<circle cx="307.50" cy="163.30" r="1.45" fill="#000"/>
<text x="309.40" y="165.10" font-size="4.9" text-anchor="start" fill="#000" >+BTZ 10</text>
</svg>
</body></html>
